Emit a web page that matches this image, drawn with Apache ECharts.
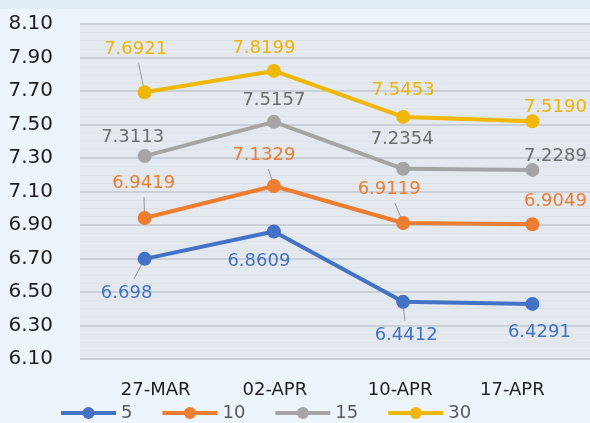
<!DOCTYPE html>
<html><head><meta charset="utf-8">
<script src="https://cdn.jsdelivr.net/npm/echarts@6/dist/echarts.min.js"></script>
<style>html,body{margin:0;padding:0;background:#EDF4FB;}#c{width:590px;height:423px;}</style>
</head><body><div id="c"></div>
<script>
const categories = ['27-MAR', '02-APR', '10-APR', '17-APR'];
const seriesNames = ['5', '10', '15', '30'];
const s5 = [6.698, 6.8609, 6.4412, 6.4291];
const s10 = [6.9419, 7.1329, 6.9119, 6.9049];
const s15 = [7.3113, 7.5157, 7.2354, 7.2289];
const s30 = [7.6921, 7.8199, 7.5453, 7.5190];
const s5Labels = ['6.698', '6.8609', '6.4412', '6.4291'];
const s10Labels = ['6.9419', '7.1329', '6.9119', '6.9049'];
const s15Labels = ['7.3113', '7.5157', '7.2354', '7.2289'];
const s30Labels = ['7.6921', '7.8199', '7.5453', '7.5190'];
const yTicks = [6.10, 6.30, 6.50, 6.70, 6.90, 7.10, 7.30, 7.50, 7.70, 7.90, 8.10];

const FONT = 'DejaVu Sans';
const colors = ['#4472C4', '#ED7D31', '#A5A5A5', '#F2B705'];
const labelColors = ['#4472C4', '#ED7D31', '#6E6E6E', '#F0B400'];
// label offsets (center of label relative to point)
const offsets = [
  [[-18, 34], [-15, 30], [3, 33], [7, 28]],
  [[-1, -35], [-10, -31], [-14, -34], [23, -23]],
  [[-12, -19], [0, -22], [-1, -29], [23, -14]],
  [[-9, -43], [-10, -23], [0, -27], [23, -14]]
];
const leaders = [
  [true, false, true, false],
  [true, true, true, false],
  [false, false, false, false],
  [true, false, false, false]
];
// horizontal shift of category labels relative to the category centre
const catShift = [11, 1, -3, -20];
const allData = [s5, s10, s15, s30];
const allLabels = [s5Labels, s10Labels, s15Labels, s30Labels];

const chart = echarts.init(document.getElementById('c'));
const series = allData.map((vals, si) => ({
  name: seriesNames[si],
  type: 'line',
  data: vals.map((v, i) => ({
    value: v,
    label: {offset: offsets[si][i]}
  })),
  symbol: 'circle',
  symbolSize: 14,
  lineStyle: {width: 4, color: colors[si]},
  itemStyle: {color: colors[si]},
  label: {
    show: true,
    position: 'inside',
    color: labelColors[si],
    fontFamily: FONT,
    fontSize: 18,
    formatter: p => allLabels[si][p.dataIndex]
  },
  z: 2 + si
}));

const rich = {};
catShift.forEach((s, i) => {
  rich['c' + i] = {
    color: '#1E1E1E', fontFamily: FONT, fontSize: 18,
    padding: [0, s < 0 ? -2 * s : 0, 0, s > 0 ? 2 * s : 0]
  };
});

chart.setOption({
  backgroundColor: '#EDF4FB',
  animation: false,
  grid: {left: 80, right: -7, top: 24, bottom: 64, outerBoundsMode: 'none', containLabel: false,
         show: true, backgroundColor: '#E3E9EF', borderWidth: 0},
  legend: {
    data: seriesNames,
    left: 54, top: 399,
    itemWidth: 55, itemHeight: 15, itemGap: 28,
    lineStyle: {width: 4},
    textStyle: {color: '#595959', fontFamily: FONT, fontSize: 18}
  },
  xAxis: {
    type: 'category',
    data: categories,
    axisLine: {show: false},
    axisTick: {show: false},
    axisLabel: {
      interval: 0, hideOverlap: false,
      color: '#1E1E1E', fontFamily: FONT, fontSize: 18, margin: 22,
      formatter: (v, i) => '{c' + i + '|' + v + '}',
      rich: rich
    }
  },
  yAxis: {
    type: 'value',
    min: yTicks[0], max: yTicks[yTicks.length - 1], interval: 0.2,
    axisLine: {show: false},
    axisTick: {show: false},
    axisLabel: {color: '#1E1E1E', fontFamily: FONT, fontSize: 20, margin: 27, formatter: v => v.toFixed(2)},
    splitLine: {lineStyle: {color: '#C9D0D7', width: 2}},
    minorTick: {show: false, splitNumber: 4},
    minorSplitLine: {show: true, lineStyle: {color: '#DDE3E9', width: 1}}
  },
  series: series
});

// leader lines from data points toward their labels, positioned via the chart's scales
const graphics = [{type: 'rect', shape: {x: 0, y: 0, width: 590, height: 9}, style: {fill: '#E1ECF5'}, silent: true}];
allData.forEach((vals, si) => {
  vals.forEach((v, i) => {
    if (!leaders[si][i]) return;
    const p = chart.convertToPixel({gridIndex: 0}, [i, v]);
    const o = offsets[si][i];
    const f = Math.max(0, 1 - 14 / Math.abs(o[1]));
    graphics.push({
      type: 'line', z: 1, silent: true,
      shape: {x1: p[0], y1: p[1], x2: p[0] + o[0] * f, y2: p[1] + o[1] * f},
      style: {stroke: '#9A9A9A', lineWidth: 1}
    });
  });
});
chart.setOption({graphic: graphics});
</script></body></html>
